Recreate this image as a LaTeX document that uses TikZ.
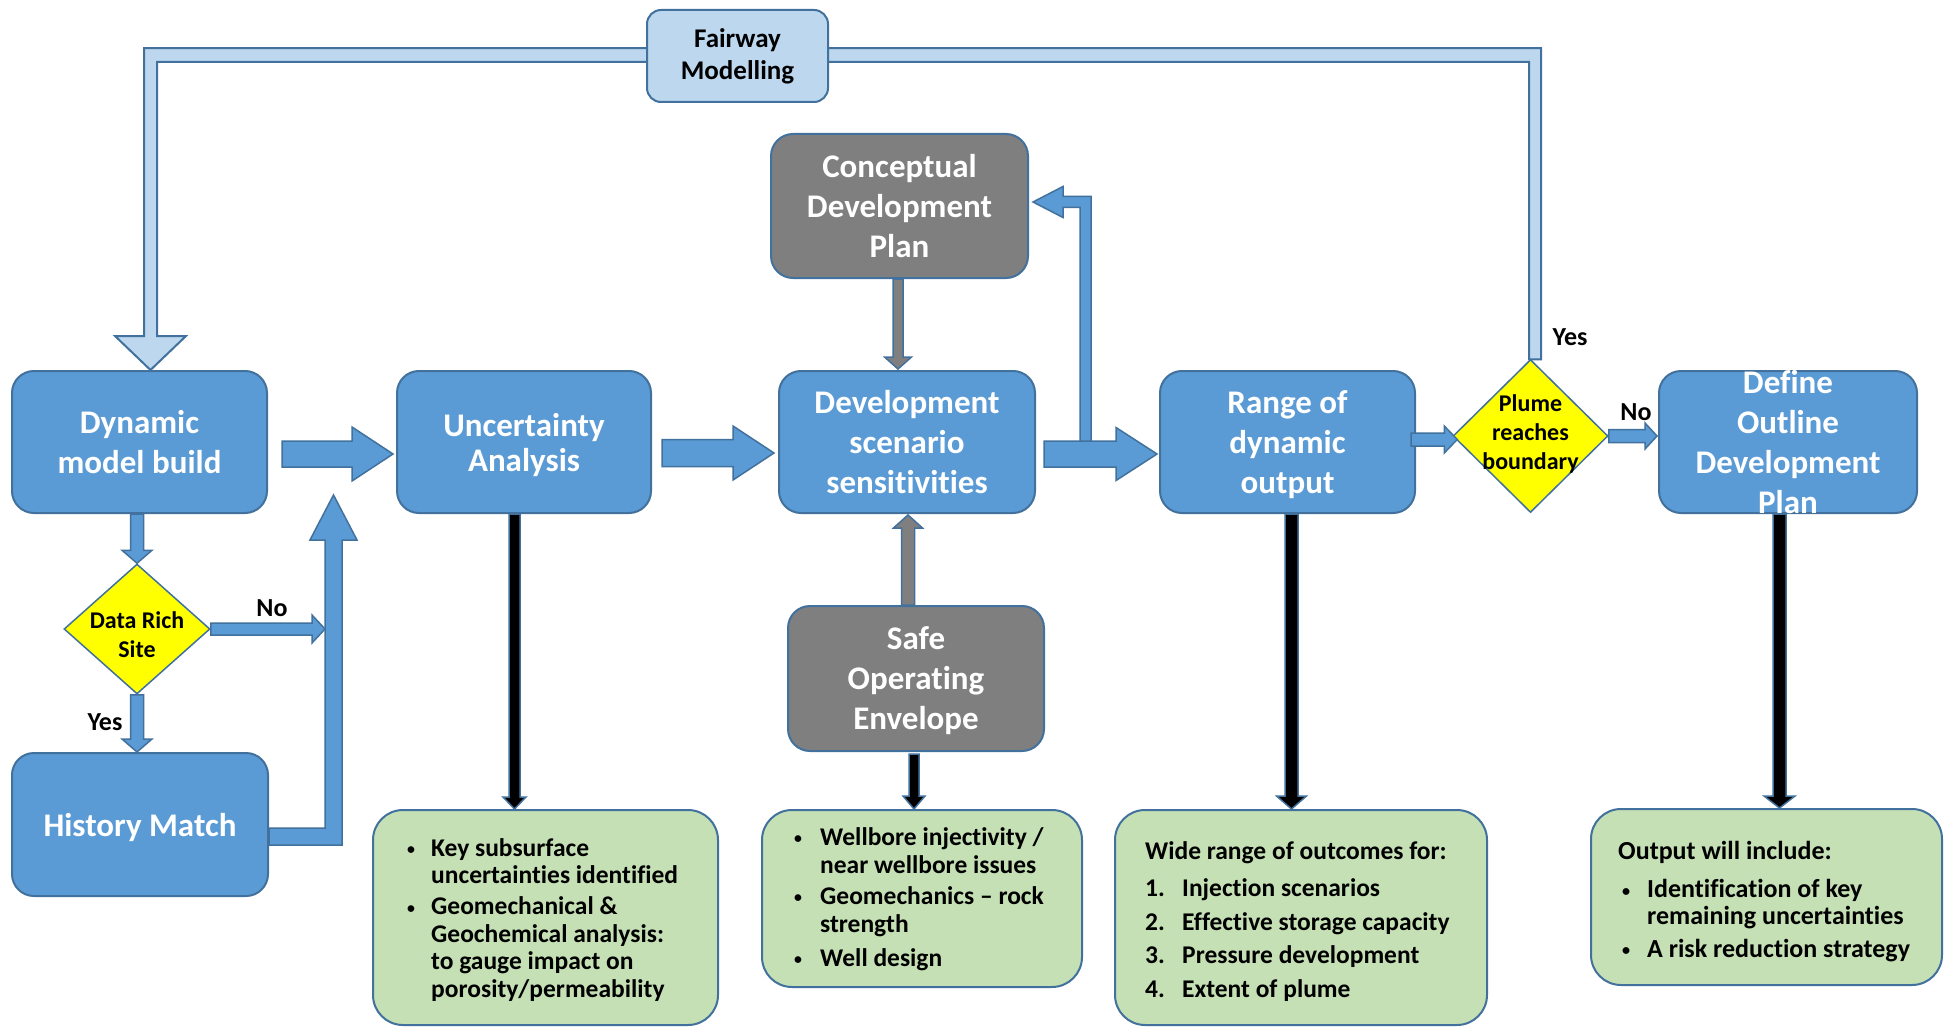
\documentclass[tikz,border=0pt]{standalone}
\usepackage{graphicx}
\usepackage{fontspec}
\setmainfont{Carlito}[Ligatures=NoCommon]
\usetikzlibrary{shapes.geometric,calc}
\definecolor{blueF}{RGB}{91,155,213}
\definecolor{blueD}{RGB}{65,113,156}
\definecolor{lightF}{RGB}{189,215,238}
\definecolor{greenF}{RGB}{197,224,180}
\definecolor{grayF}{RGB}{127,127,127}
\definecolor{yellowF}{RGB}{255,255,0}
\newcommand\bul{\raisebox{1.5pt}{\scalebox{0.62}{•}}}
\newcommand\blockarr[6][]{%
  \coordinate (bahd) at ($(#3)!#6!(#2)$);
  \filldraw[barr,#1] ($(#2)!#4!90:(#3)$) -- ($(bahd)!#4!90:(#3)$) -- ($(bahd)!#5!90:(#3)$) -- (#3) -- ($(bahd)!#5!-90:(#3)$) -- ($(bahd)!#4!-90:(#3)$) -- ($(#2)!#4!-90:(#3)$) -- cycle;}
\tikzset{
  bbox/.style={draw=blueD, line width=2pt, fill=blueF, rounded corners=22pt, inner sep=0pt, text=white, align=center, text depth=0pt, font=\bfseries\fontsize{33}{40}\selectfont},
  btext/.style={inner sep=0pt, text=white, align=center, font=\bfseries\fontsize{33}{40}\selectfont},
  grbox/.style={draw=blueD, line width=2pt, fill=greenF, rounded corners=30pt, inner sep=0pt},
  dia/.style={diamond, draw=blueD, line width=1.5pt, fill=yellowF, inner sep=0pt},
  dtext/.style={inner sep=0pt, align=center, font=\bfseries\fontsize{24}{29}\selectfont},
  lbl/.style={inner sep=0pt, font=\bfseries\fontsize{26}{30}\selectfont},
  barr/.style={draw=blueD, line width=1.5pt, fill=blueF, line join=miter},
  grayarr/.style={fill=grayF},
  blackarr/.style={fill=black},
  hollow/.style={draw=blueD, line width=2pt, fill=lightF, line join=miter},
  gtext/.style={inner sep=0pt, anchor=north west, font=\bfseries\fontsize{25.5}{27.5}\selectfont},
}
\begin{document}
\begin{tikzpicture}[x=1pt,y=-1pt]
\useasboundingbox (0,0) rectangle (1944,1027);
\fill[white] (0,0) rectangle (1944,1027);

% main boxes
\node[bbox, minimum width=255pt, minimum height=142pt] (dyn) at (139.5,442) {Dynamic\\model build};
\node[bbox, minimum width=254pt, minimum height=142pt, font=\bfseries\fontsize{33}{35}\selectfont] (unc) at (524,442) {Uncertainty\\Analysis};
\node[bbox, minimum width=256pt, minimum height=142pt] (dev) at (907,442) {Development\\scenario\\sensitivities};
\node[bbox, minimum width=255pt, minimum height=142pt] (rng) at (1287.5,442) {Range of\\dynamic\\output};
\node[bbox, minimum width=258pt, minimum height=142pt] (def) at (1788,442) {};
\node[btext] (deft) at (def.center) {Define\\Outline\\Development\\Plan};
\node[bbox, fill=grayF, minimum width=257pt, minimum height=144pt] (cdp) at (899.5,206) {Conceptual\\Development\\Plan};
\node[bbox, fill=grayF, minimum width=256pt, minimum height=145pt] (soe) at (916,678.5) {Safe\\Operating\\Envelope};
\node[bbox, minimum width=256pt, minimum height=143pt] (hm) at (140,824.5) {History Match};

% diamonds
\node[dia, minimum width=146pt, minimum height=130pt] (drs) at (137,629) {};
\node[dtext] (drst) at ($(drs.center)+(0,6)$) {Data Rich\\Site};
\node[dia, minimum width=155pt, minimum height=153pt] (plume) at (1530.5,436) {};
\node[dtext] (plumet) at ($(plume.center)+(0,-2)$) {Plume\\reaches\\boundary};

% green boxes
\node[grbox, minimum width=345pt, minimum height=215pt] (g1) at (545.5,917.5) {};
\node[grbox, minimum width=320pt, minimum height=177pt] (g2) at (922,898.5) {};
\node[grbox, minimum width=372pt, minimum height=215pt] (g3) at (1301,917.5) {};
\node[grbox, minimum width=351pt, minimum height=176pt] (g4) at (1766.5,897) {};

\node[gtext] (g1t) at (407,837) {\begin{tabular}{@{}l@{}l@{}}
\makebox[24pt][l]{\bul} & Key subsurface\\
 & uncertainties identified\\[3.5pt]
\makebox[24pt][l]{\bul} & Geomechanical \&\\
 & Geochemical analysis:\\
 & to gauge impact on\\
 & porosity/permeability
\end{tabular}};
\node[gtext, font=\bfseries\fontsize{25.5}{28}\selectfont] (g2t) at (794,825.4) {\begin{tabular}{@{}l@{}l@{}}
\makebox[26pt][l]{\bul} & Wellbore injectivity /\\
 & near wellbore issues\\[3pt]
\makebox[26pt][l]{\bul} & Geomechanics – rock\\
 & strength\\[6pt]
\makebox[26pt][l]{\bul} & Well design
\end{tabular}};
\node[gtext] (g3t) at (1145,840) {\begin{tabular}{@{}l@{}l@{}}
\multicolumn{2}{@{}l@{}}{Wide range of outcomes for:}\\[9.5pt]
\makebox[37pt][l]{1.} & Injection scenarios\\[6.5pt]
\makebox[37pt][l]{2.} & Effective storage capacity\\[6pt]
\makebox[37pt][l]{3.} & Pressure development\\[6pt]
\makebox[37pt][l]{4.} & Extent of plume
\end{tabular}};
\node[gtext, font=\bfseries\fontsize{26}{26}\selectfont] (g4t) at (1618,841.5) {\begin{tabular}{@{}l@{}l@{}}
\multicolumn{2}{@{}l@{}}{Output will include:}\\[12pt]
\makebox[29pt][l]{\hspace{4pt}\bul} & Identification of key\\
 & remaining uncertainties\\[7pt]
\makebox[29pt][l]{\hspace{4pt}\bul} & A risk reduction strategy
\end{tabular}};

% Fairway loop
\coordinate (fstart) at ($(plume.north)+(-1.5,0.5)$);
\coordinate (fairtip) at ($(dyn.north)+(11,0)$);
\filldraw[hollow] (fstart) |- ($(fairtip)+(6.5,-308)$) -- ($(fairtip)+(6.5,-34)$) -- ++(29,0) -- (fairtip) -- ++(-35.5,-34) -- ++(29,0) |- ($(fstart)+(12,-311)$) -- ($(fstart)+(12,0)$) -- cycle;
\node[draw=blueD, line width=2pt, fill=lightF, rounded corners=14pt, minimum width=181pt, minimum height=92pt, inner sep=0pt, align=center, font=\bfseries\fontsize{27}{32}\selectfont] (fair) at (737.5,56) {Fairway\\Modelling};

% bent arrow dev -> conceptual
\coordinate (branch) at ($(dev.east)+(49.5,3)$);
\coordinate (cdptip) at ($(cdp.east)+(4,-4)$);
\filldraw[barr] (branch) ++(-5.5,0) |- ($(cdptip)+(30,5.5)$) -- ++(0,10) -- (cdptip) -- ++(30,-15.5) -- ++(0,10) -| ($(branch)+(5.5,0)$) -- cycle;

% main flow block arrows
\coordinate (a1s) at ($(dyn.east)+(14,12)$);
\coordinate (a1e) at ($(unc.west)+(-3,12)$);
\blockarr{a1s}{a1e}{13pt}{27pt}{41pt}
\coordinate (a2s) at ($(unc.east)+(10,11)$);
\coordinate (a2e) at ($(dev.west)+(-4,11)$);
\blockarr{a2s}{a2e}{13.5pt}{27pt}{41pt}
\coordinate (a3s) at ($(dev.east)+(8,12)$);
\coordinate (a3e) at ($(rng.west)+(-2,12)$);
\blockarr{a3s}{a3e}{13pt}{26.5pt}{41pt}
\coordinate (a4s) at ($(rng.east)+(-5,-2.5)$);
\coordinate (a4e) at ($(plume.west)+(5,3.5)$);
\blockarr{a4s}{a4e}{6.5pt}{13.5pt}{13pt}
\coordinate (a5e) at ($(def.west)+(-1,-6)$);
\coordinate (a5s) at ($(plume.east)+(0,0)$);
\blockarr{a5s}{a5e}{6.5pt}{13pt}{12pt}

% left column arrows
\coordinate (a6s) at ($(dyn.south)+(-2.5,0)$);
\blockarr{a6s}{drs.north}{6.5pt}{15pt}{13pt}
\coordinate (a7e) at ($(hm.north)+(-3,0)$);
\blockarr{drs.south}{a7e}{6.5pt}{15pt}{13pt}
\coordinate (nojoin) at (325,629);
\blockarr{drs.east}{nojoin}{6pt}{14pt}{13pt}
\coordinate (hmtail) at ($(hm.east)+(0,12)$);
\coordinate (uptip) at (333.5,495);
\filldraw[barr] (hmtail) ++(0,-8.5) -| ($(uptip)+(-8.5,45)$) -- ++(-15,0) -- (uptip) -- ++(23.5,45) -- ++(-15,0) |- ($(hmtail)+(0,8.5)$) -- cycle;

% gray arrows
\coordinate (b1s) at ($(cdp.south)+(-1.5,0)$);
\coordinate (b1e) at ($(dev.north)+(-9,-1)$);
\blockarr[grayarr]{b1s}{b1e}{5pt}{13.5pt}{12pt}
\coordinate (b2s) at ($(soe.north)+(-8,0)$);
\coordinate (b2e) at ($(dev.south)+(1,1)$);
\blockarr[grayarr]{b2s}{b2e}{6.5pt}{14.5pt}{13pt}

% black arrows
\coordinate (c1s) at ($(unc.south)+(-9.5,0)$);
\coordinate (c1e) at ($(g1.north)+(-31,0)$);
\blockarr[blackarr]{c1s}{c1e}{5.5pt}{11.5pt}{12pt}
\coordinate (c2s) at ($(soe.south)+(-2,2)$);
\coordinate (c2e) at ($(g2.north)+(-8,0)$);
\blockarr[blackarr]{c2s}{c2e}{5pt}{11pt}{13pt}
\coordinate (c3s) at ($(rng.south)+(4,0)$);
\coordinate (c3e) at ($(g3.north)+(-9.5,0)$);
\blockarr[blackarr]{c3s}{c3e}{6.5pt}{15pt}{13pt}
\coordinate (c4s) at ($(def.south)+(-8.5,0)$);
\coordinate (c4e) at ($(g4.north)+(13,0)$);
\blockarr[blackarr]{c4s}{c4e}{6.5pt}{15.5pt}{12pt}

% labels
\node[lbl] (lno1) at (272,608) {No};
\node[lbl] (lyes1) at (105,722) {Yes};
\node[lbl] (lyes2) at (1570,337) {Yes};
\node[lbl] (lno2) at (1636,412) {No};
\end{tikzpicture}
\end{document}
